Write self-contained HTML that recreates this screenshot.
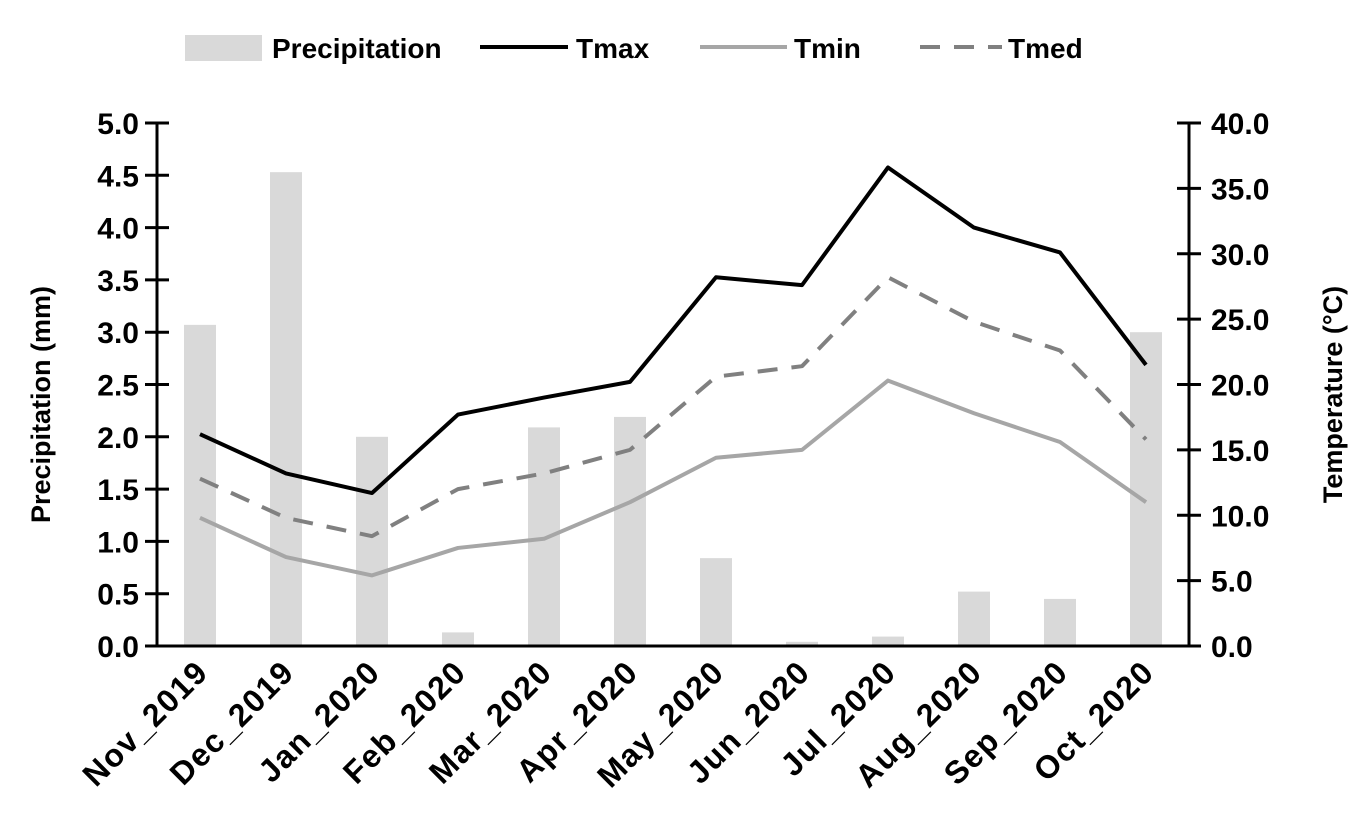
<!DOCTYPE html>
<html><head><meta charset="utf-8"><style>
body{margin:0;background:#fff;}
svg{display:block;font-family:"Liberation Sans",sans-serif;}
</style></head><body>
<svg id="chart" width="1364" height="827"></svg>
<script>
const categories=["Nov_2019","Dec_2019","Jan_2020","Feb_2020","Mar_2020","Apr_2020","May_2020","Jun_2020","Jul_2020","Aug_2020","Sep_2020","Oct_2020"];
const precipitation=[3.07,4.53,2.0,0.13,2.09,2.19,0.84,0.04,0.09,0.52,0.45,3.0];
const tmax=[16.2,13.2,11.7,17.7,19.0,20.2,28.2,27.6,36.6,32.0,30.1,21.5];
const tmin=[9.8,6.8,5.4,7.5,8.2,11.0,14.4,15.0,20.3,17.8,15.6,11.0];
const tmed=[12.8,9.8,8.4,12.0,13.2,15.0,20.6,21.4,28.2,24.8,22.6,15.8];
const leftTicks=["0.0","0.5","1.0","1.5","2.0","2.5","3.0","3.5","4.0","4.5","5.0"];
const rightTicks=["0.0","5.0","10.0","15.0","20.0","25.0","30.0","35.0","40.0"];

const NS="http://www.w3.org/2000/svg";
const svg=document.getElementById('chart');
const L=157,R=1189,T=123,B=646;
const band=(R-L)/categories.length;
const xc=i=>L+band*(i+0.5);
const yP=v=>B-(v/5)*(B-T);
const yT=v=>B-(v/40)*(B-T);
function mk(tag,attrs,parent){const e=document.createElementNS(NS,tag);for(const k in attrs)e.setAttribute(k,attrs[k]);(parent||svg).appendChild(e);return e;}

categories.forEach((c,i)=>{
  const b=mk('rect',{x:xc(i)-16,y:yP(precipitation[i]),width:32,height:B-yP(precipitation[i]),fill:'#d9d9d9'});
  
  
});
function line(data,stroke,dash,name){
  const p=mk('polyline',{points:data.map((v,i)=>xc(i)+','+yT(v)).join(' '),fill:'none',stroke:stroke,'stroke-width':4,'stroke-dasharray':dash||'', 'stroke-linejoin':'round'});
  
  
}
line(tmin,'#a6a6a6','','tmin-line');
line(tmed,'#808080','20,14','tmed-line');
line(tmax,'#000','','tmax-line');

mk('line',{x1:L,y1:T,x2:L,y2:B,stroke:'#000','stroke-width':3});
mk('line',{x1:R,y1:T,x2:R,y2:B,stroke:'#000','stroke-width':3});
mk('line',{x1:L-12,y1:B,x2:R+12,y2:B,stroke:'#000','stroke-width':3});
leftTicks.forEach((t,i)=>{
  const y=yP(i*0.5);
  mk('line',{x1:L-12,y1:y,x2:L+12,y2:y,stroke:'#000','stroke-width':3});
  const tx=mk('text',{x:L-18,y:y+11,'text-anchor':'end','font-size':30,'font-weight':'bold'});tx.textContent=t;
  
  
});
rightTicks.forEach((t,i)=>{
  const y=yT(i*5);
  mk('line',{x1:R-12,y1:y,x2:R+12,y2:y,stroke:'#000','stroke-width':3});
  const tx=mk('text',{x:R+22,y:y+11,'font-size':30,'font-weight':'bold'});tx.textContent=t;
  
  
});
categories.forEach((c,i)=>{
  const x=xc(i)+10,y=674;
  const tx=mk('text',{x:x,y:y,'text-anchor':'end','font-size':32,'font-weight':'bold','letter-spacing':1.5,transform:`rotate(-45 ${x} ${y})`});
  tx.textContent=c;
  
  
});
let t1=mk('text',{x:0,y:0,'text-anchor':'middle','font-size':27,'font-weight':'bold',transform:`translate(50 ${(T+B)/2+20}) rotate(-90)`});
t1.textContent='Precipitation (mm)';


let t2=mk('text',{x:0,y:0,'text-anchor':'middle','font-size':27,'font-weight':'bold',transform:`translate(1342 ${(T+B)/2+10}) rotate(-90)`});
t2.textContent='Temperature (°C)';



const lg=mk('g',{});


mk('rect',{x:185,y:35,width:77,height:26,fill:'#d9d9d9'},lg);
let a=mk('text',{x:272,y:58,'font-size':28,'font-weight':'bold'},lg);a.textContent='Precipitation';
mk('line',{x1:480,y1:47,x2:568,y2:47,stroke:'#000','stroke-width':4},lg);
a=mk('text',{x:576,y:58,'font-size':28,'font-weight':'bold'},lg);a.textContent='Tmax';
mk('line',{x1:700,y1:47,x2:787,y2:47,stroke:'#a6a6a6','stroke-width':4},lg);
a=mk('text',{x:794,y:58,'font-size':28,'font-weight':'bold'},lg);a.textContent='Tmin';
mk('line',{x1:920,y1:47,x2:1002,y2:47,stroke:'#808080','stroke-width':4,'stroke-dasharray':'20,14'},lg);
a=mk('text',{x:1008,y:58,'font-size':28,'font-weight':'bold'},lg);a.textContent='Tmed';
</script>
</body></html>
